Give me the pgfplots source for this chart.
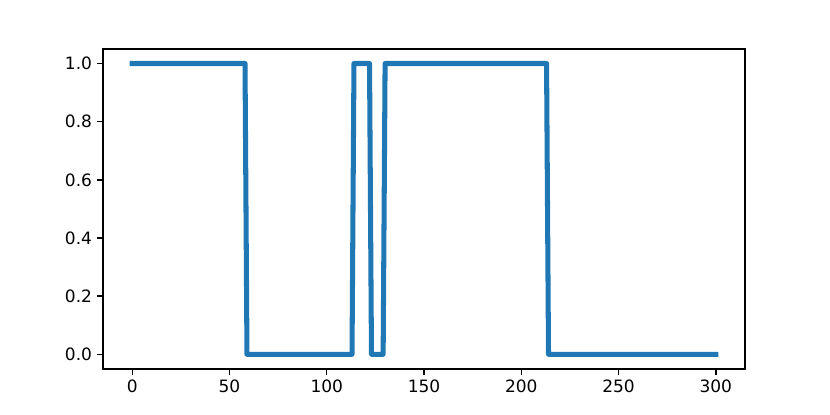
\documentclass[border=0pt]{standalone}
\usepackage{fontspec}
\setmainfont{DejaVu Sans}
\usepackage{pgfplots}
\pgfplotsset{compat=1.18}

\definecolor{mplblue}{HTML}{1F77B4}

\begin{document}
\begin{tikzpicture}
\begin{axis}[
    name=ax,
    scale only axis,
    width=445.6pt,
    height=222pt,
    xmin=-15, xmax=315,
    ymin=-0.05, ymax=1.05,
    xtick={0,50,...,300},
    ytick={0,0.2,...,1.0},
    yticklabel style={/pgf/number format/.cd, fixed, fixed zerofill, precision=1},
    /pgf/number format/assume math mode=true,
    tick align=outside,
    xtick pos=left, ytick pos=left,
    major tick length=4.1pt,
    every tick/.style={black, line width=0.95pt},
    axis line style={line width=0.95pt},
    tick label style={font=\fontsize{11.8}{14}\selectfont},
]
\addplot[mplblue, line width=3.5pt, line join=round, line cap=rect] coordinates {
    (0,1) (58,1) (59,0) (113,0) (114,1) (122,1) (123,0)
    (129,0) (130,1) (213,1) (214,0) (300,0)
};
\end{axis}
\pgfresetboundingbox
\useasboundingbox ([shift={(-71.5pt,-31.9pt)}]ax.south west) rectangle ([shift={(59pt,34pt)}]ax.north east);
\end{tikzpicture}
\end{document}
